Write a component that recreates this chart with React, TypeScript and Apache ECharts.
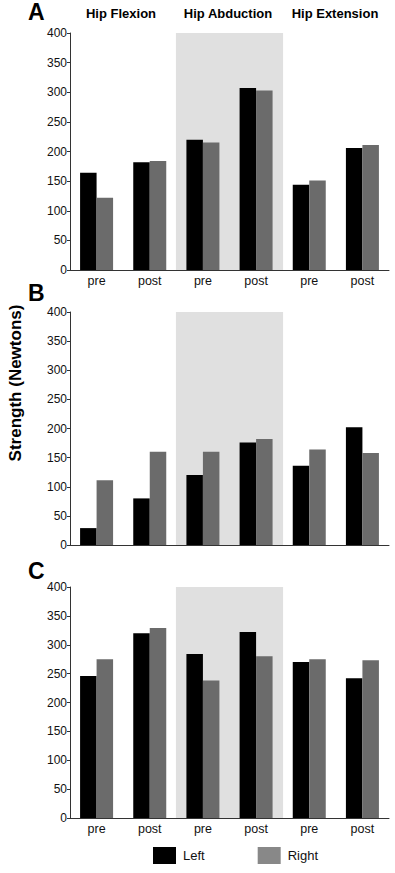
import React, { useEffect, useRef } from "react";
import * as echarts from "echarts";

const categories = ["pre", "post", "pre", "post", "pre", "post"];
const movements = ["Hip Flexion", "Hip Abduction", "Hip Extension"];
const panelLetters = ["A", "B", "C"];
const seriesNames = ["Left", "Right"];
const shadeValues = [null, null, 400, 400, null, null];

const leftA = [164, 182, 220, 307, 144, 206];
const rightA = [122, 184, 215, 303, 151, 211];
const leftB = [29, 80, 120, 176, 136, 202];
const rightB = [111, 160, 160, 182, 164, 158];
const leftC = [246, 320, 284, 322, 270, 242];
const rightC = [275, 329, 238, 280, 275, 273];

const yTicks = [0, 400, 50];

const FONT = "'Liberation Sans', Arial, Helvetica, sans-serif";

export default function App() {
  const ref = useRef<HTMLDivElement>(null);
  useEffect(() => {
    if (!ref.current) return;
    const chart = echarts.init(ref.current, undefined, { renderer: "svg" });
    const panels = [
      { l: leftA, r: rightA, top: 33, height: 237, labels: true },
      { l: leftB, r: rightB, top: 312, height: 233, labels: false },
      { l: leftC, r: rightC, top: 587, height: 231, labels: true },
    ];
    const grid: any[] = [];
    const xAxis: any[] = [];
    const yAxis: any[] = [];
    const series: any[] = [];
    panels.forEach((p, i) => {
      grid.push({ left: 70, right: 6, top: p.top, height: p.height });
      xAxis.push({
        type: "category",
        gridIndex: i,
        data: categories,
        axisTick: { show: false },
        axisLine: { lineStyle: { color: "#333", width: 1 } },
        axisLabel: {
          show: p.labels,
          color: "#111",
          fontSize: 12.5,
          fontFamily: FONT,
          margin: 4,
        },
        z: 5,
      });
      xAxis.push({
        type: "category",
        gridIndex: i,
        data: categories,
        show: false,
      });
      yAxis.push({
        type: "value",
        gridIndex: i,
        min: yTicks[0],
        max: yTicks[1],
        interval: yTicks[2],
        splitLine: { show: false },
        axisLine: { show: true, lineStyle: { color: "#333", width: 1 } },
        axisTick: { show: true, length: 3, lineStyle: { color: "#333" } },
        axisLabel: { color: "#111", fontSize: 12, fontFamily: FONT, margin: 3 },
        z: 5,
      });
      series.push({
        type: "bar",
        name: "shade" + i,
        xAxisIndex: i * 2 + 1,
        yAxisIndex: i,
        data: shadeValues,
        barWidth: 54,
        itemStyle: { color: "#e0e0e0" },
        silent: true,
        z: 1,
      });
      series.push({
        type: "bar",
        name: seriesNames[0],
        xAxisIndex: i * 2,
        yAxisIndex: i,
        data: p.l,
        barWidth: 16.5,
        barGap: "0%",
        itemStyle: { color: "#000" },
        z: 3,
      });
      series.push({
        type: "bar",
        name: seriesNames[1],
        xAxisIndex: i * 2,
        yAxisIndex: i,
        data: p.r,
        barWidth: 16.5,
        barGap: "0%",
        itemStyle: { color: "#6b6b6b" },
        z: 3,
      });
    });

    const graphic: any[] = [];
    const titleX = [121, 228, 335];
    movements.forEach((m, i) => {
      graphic.push({
        type: "text",
        x: titleX[i],
        y: 13,
        style: {
          text: m,
          font: `bold 13px ${FONT}`,
          fill: "#000",
          align: "center",
          verticalAlign: "middle",
        },
      });
    });
    const letterPos = [
      [28, 12],
      [28, 293],
      [28, 571],
    ];
    panelLetters.forEach((t, i) => {
      graphic.push({
        type: "text",
        x: letterPos[i][0],
        y: letterPos[i][1],
        style: {
          text: t,
          font: `bold 23px ${FONT}`,
          fill: "#000",
          align: "left",
          verticalAlign: "middle",
        },
      });
    });
    graphic.push({
      type: "text",
      x: 15,
      y: 383,
      rotation: Math.PI / 2,
      style: {
        text: "Strength (Newtons)",
        font: `bold 17px ${FONT}`,
        fill: "#000",
        align: "center",
        verticalAlign: "middle",
      },
    });

    chart.setOption({
      animation: false,
      backgroundColor: "#fff",
      grid,
      xAxis,
      yAxis,
      series,
      graphic,
      legend: {
        left: 148,
        top: 842,
        itemWidth: 23,
        itemHeight: 17,
        itemGap: 53,
        icon: "rect",
        textStyle: { fontSize: 13, fontFamily: FONT, color: "#111", padding: [6, 0, 0, 2] },
        data: [
          { name: seriesNames[0], itemStyle: { color: "#000" } },
          { name: seriesNames[1], itemStyle: { color: "#888" } },
        ],
      },
    });
    return () => chart.dispose();
  }, []);
  return (
    <div
      ref={ref}
      style={{ position: "absolute", left: 0, top: 0, width: 395, height: 873 }}
    />
  );
}
